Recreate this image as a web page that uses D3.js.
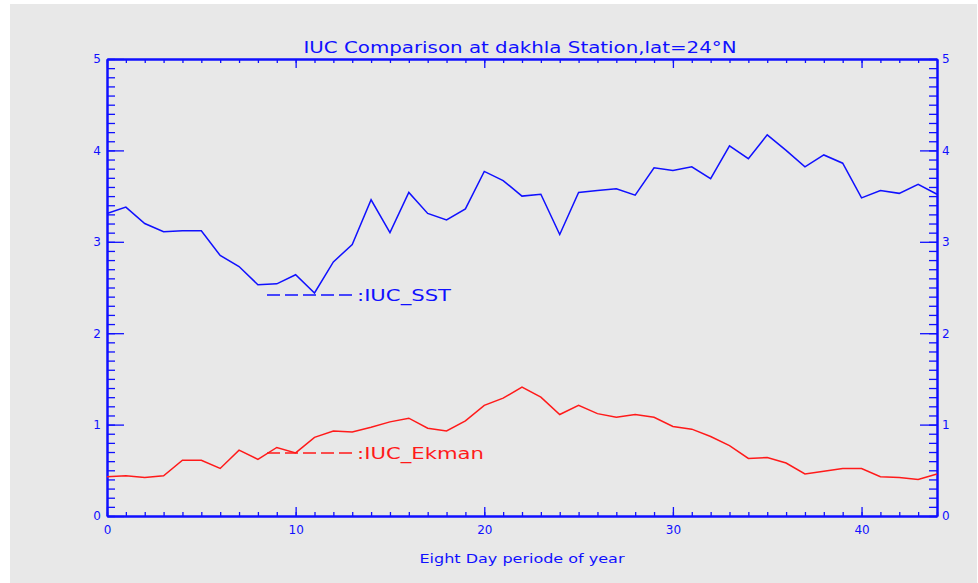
<!DOCTYPE html>
<html>
<head>
<meta charset="utf-8">
<script src="https://cdn.jsdelivr.net/npm/d3@7"></script>
<style>
  body { margin: 0; background: #fff; }
  text { font-family: "DejaVu Sans", sans-serif; }
</style>
</head>
<body>
<svg id="chart"></svg>
<script>
// eight day periods 0..44
var periods = d3.range(0, 45);

var iucSST = [3.31, 3.38, 3.20, 3.11, 3.12, 3.12, 2.85, 2.73, 2.53, 2.54,
  2.64, 2.44, 2.78, 2.97, 3.46, 3.10, 3.54, 3.31, 3.24, 3.36,
  3.77, 3.67, 3.50, 3.52, 3.08, 3.54, 3.56, 3.58, 3.51, 3.81,
  3.78, 3.82, 3.69, 4.05, 3.91, 4.17, 4.00, 3.82, 3.95, 3.86,
  3.48, 3.56, 3.53, 3.63, 3.52];

var iucEkman = [0.43, 0.44, 0.42, 0.44, 0.61, 0.61, 0.52, 0.72, 0.62, 0.75,
  0.69, 0.86, 0.93, 0.92, 0.97, 1.03, 1.07, 0.96, 0.93, 1.04,
  1.21, 1.29, 1.41, 1.30, 1.11, 1.21, 1.12, 1.08, 1.11, 1.08,
  0.98, 0.95, 0.87, 0.77, 0.63, 0.64, 0.58, 0.46, 0.49, 0.52,
  0.52, 0.43, 0.42, 0.40, 0.46];

var xMajor = [0, 10, 20, 30, 40];
var yMajor = [0, 1, 2, 3, 4, 5];

var blue = '#1010ff';
var red = '#ff1a1a';

var W = 978, H = 583;
var margin = {top: 59, right: 41, bottom: 67, left: 107};
var width = W - margin.left - margin.right;
var height = H - margin.top - margin.bottom;

var svg = d3.select('#chart').attr('width', W).attr('height', H);

svg.append('rect')
  .attr('x', 10).attr('y', 4)
  .attr('width', W - 11).attr('height', H - 4)
  .attr('fill', '#e8e8e8');

var chart = svg.append('g')
  .attr('transform', `translate(${margin.left}, ${margin.top})`);

var xScale = d3.scaleLinear().domain([0, 44]).range([0, width]);
var yScale = d3.scaleLinear().domain([0, 5]).range([height, 0]);

function styleAxis(g) {
  g.selectAll('path').attr('stroke', blue).attr('stroke-width', 2);
  g.selectAll('line').attr('stroke', blue).attr('stroke-width', 1.3);
  g.selectAll('text').attr('fill', blue).style('font-size', '12px');
}

// minor ticks
chart.append('g')
  .attr('transform', `translate(0, ${height})`)
  .call(d3.axisBottom(xScale).tickValues(periods).tickSize(-4).tickSizeOuter(0).tickFormat(''))
  .call(styleAxis);
chart.append('g')
  .call(d3.axisTop(xScale).tickValues(periods).tickSize(-4).tickSizeOuter(0).tickFormat(''))
  .call(styleAxis);
chart.append('g')
  .call(d3.axisLeft(yScale).tickValues(d3.range(0, 51).map(d => d / 10)).tickSize(-8).tickSizeOuter(0).tickFormat(''))
  .call(styleAxis);
chart.append('g')
  .attr('transform', `translate(${width}, 0)`)
  .call(d3.axisRight(yScale).tickValues(d3.range(0, 51).map(d => d / 10)).tickSize(-8).tickSizeOuter(0).tickFormat(''))
  .call(styleAxis);

// major ticks with labels
chart.append('g')
  .attr('transform', `translate(0, ${height})`)
  .call(d3.axisBottom(xScale).tickValues(xMajor).tickSize(-9).tickSizeOuter(0).tickPadding(9).tickFormat(d3.format('d')))
  .call(styleAxis);
chart.append('g')
  .call(d3.axisTop(xScale).tickValues(xMajor).tickSize(-9).tickSizeOuter(0).tickFormat(''))
  .call(styleAxis);
chart.append('g')
  .call(d3.axisLeft(yScale).tickValues(yMajor).tickSize(-17).tickSizeOuter(0).tickPadding(6).tickFormat(d3.format('d')))
  .call(styleAxis);
chart.append('g')
  .attr('transform', `translate(${width}, 0)`)
  .call(d3.axisRight(yScale).tickValues(yMajor).tickSize(-17).tickSizeOuter(0).tickPadding(5).tickFormat(d3.format('d')))
  .call(styleAxis);

// series lines
var line = d3.line()
  .x((d, i) => xScale(periods[i]))
  .y(d => yScale(d));

chart.append('path')
  .datum(iucSST)
  .attr('fill', 'none')
  .attr('stroke', blue)
  .attr('stroke-width', 1.5)
  .attr('d', line);

chart.append('path')
  .datum(iucEkman)
  .attr('fill', 'none')
  .attr('stroke', red)
  .attr('stroke-width', 1.5)
  .attr('d', line);

// legend
var legend = [
  {name: ':IUC_SST', color: blue, y: 295, len: 94},
  {name: ':IUC_Ekman', color: red, y: 453, len: 127}
];
legend.forEach(function(l) {
  svg.append('line')
    .attr('x1', 267).attr('x2', 356)
    .attr('y1', l.y).attr('y2', l.y)
    .attr('stroke', l.color)
    .attr('stroke-width', 1.5)
    .attr('stroke-dasharray', '13,5');
  svg.append('text')
    .attr('x', 357).attr('y', l.y + 5.5)
    .attr('fill', l.color)
    .attr('textLength', l.len)
    .attr('lengthAdjust', 'spacingAndGlyphs')
    .style('font-size', '15px')
    .text(l.name);
});

// title and axis label
svg.append('text')
  .attr('x', 520).attr('y', 53)
  .attr('text-anchor', 'middle')
  .attr('fill', blue)
  .attr('textLength', 433)
  .attr('lengthAdjust', 'spacingAndGlyphs')
  .style('font-size', '15px')
  .text('IUC Comparison at dakhla Station,lat=24°N');

svg.append('text')
  .attr('x', 522).attr('y', 563)
  .attr('text-anchor', 'middle')
  .attr('fill', blue)
  .attr('textLength', 205)
  .attr('lengthAdjust', 'spacingAndGlyphs')
  .style('font-size', '12px')
  .text('Eight Day periode of year');
</script>
</body>
</html>
